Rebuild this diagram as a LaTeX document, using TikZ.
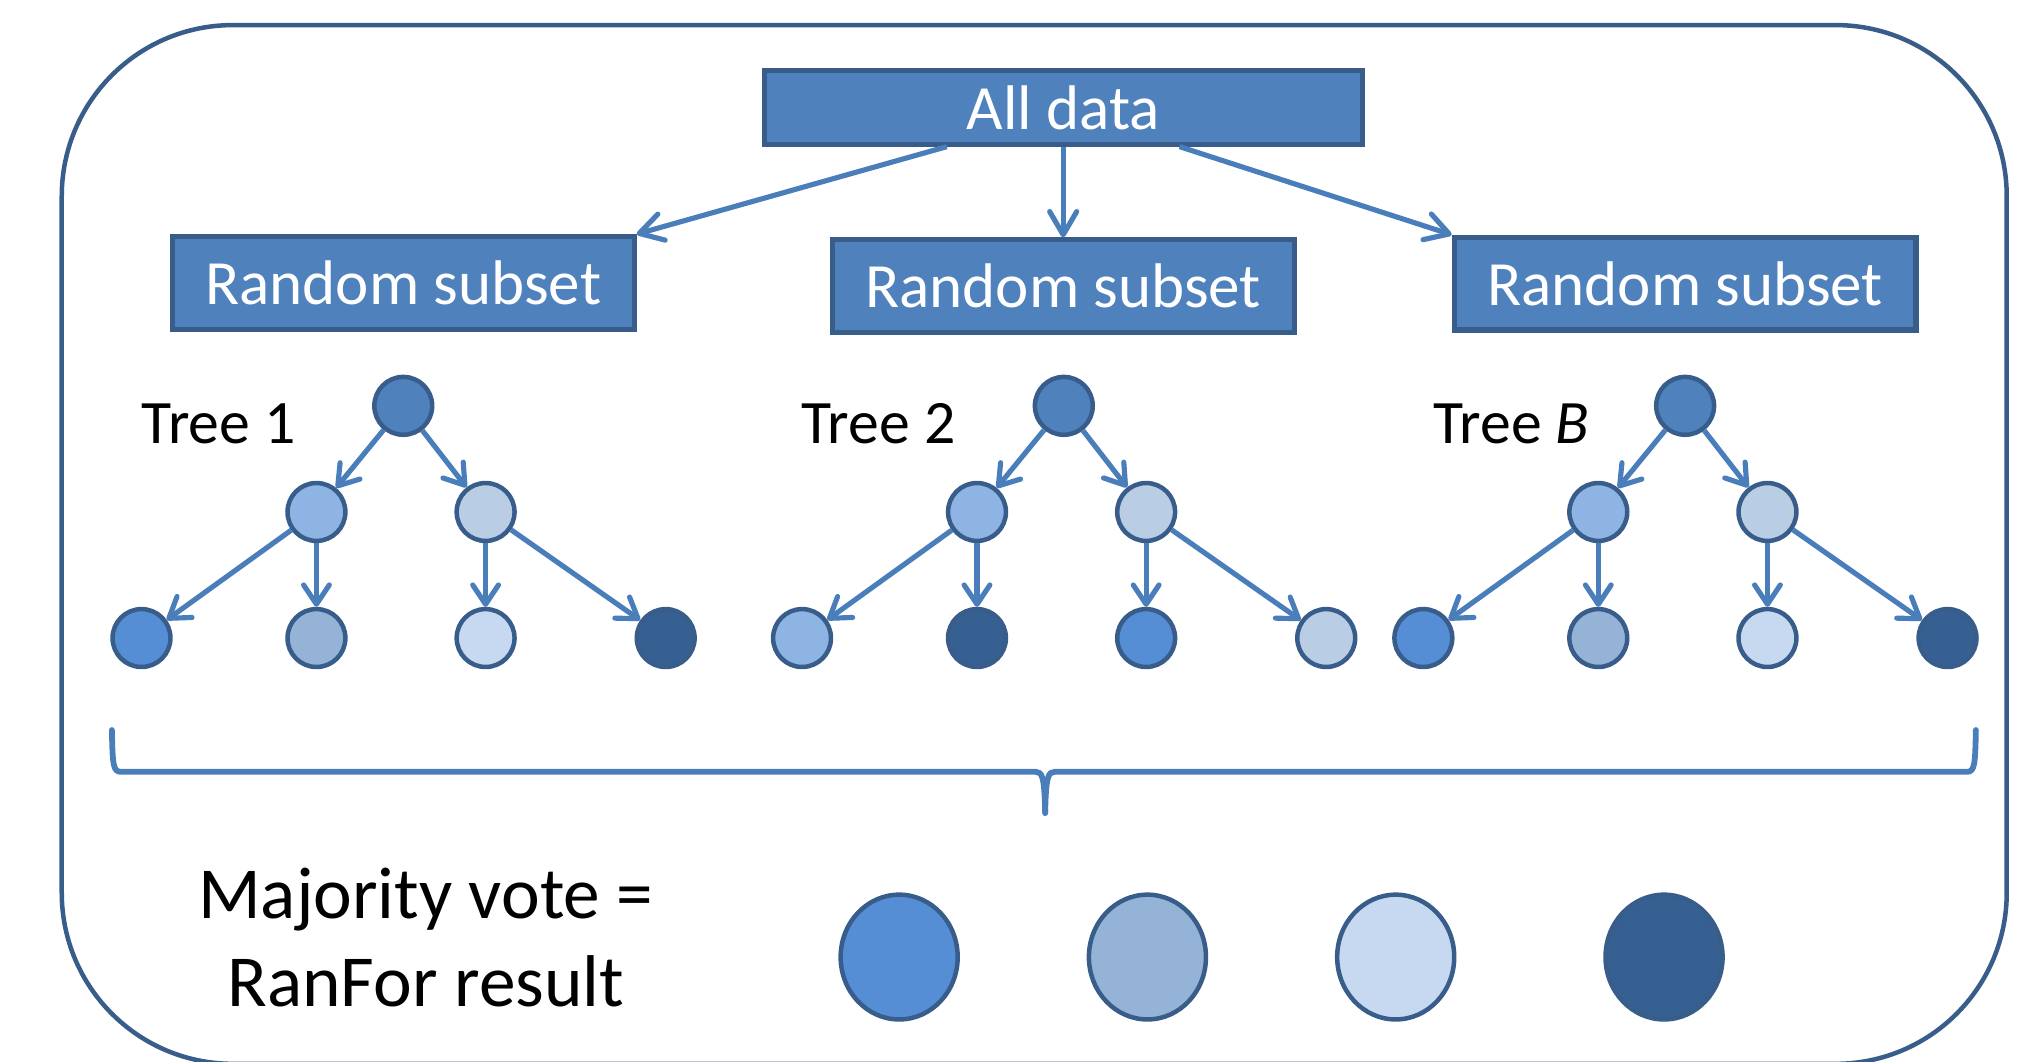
\documentclass[tikz,border=0pt]{standalone}
\usepackage{fontspec}
\setmainfont{Carlito}
\usetikzlibrary{arrows.meta,shapes.geometric,calc}
\definecolor{accent}{HTML}{4F81BD}
\definecolor{bdr}{HTML}{385D8A}
\definecolor{conn}{HTML}{4A7EBB}
\definecolor{cmidL}{HTML}{8EB4E3}
\definecolor{cmidR}{HTML}{B9CDE5}
\definecolor{cA}{HTML}{558ED5}
\definecolor{cB}{HTML}{95B3D7}
\definecolor{cC}{HTML}{C6D9F1}
\definecolor{cD}{HTML}{376092}
\tikzset{
  databox/.style={rectangle, draw=bdr, fill=accent, line width=4pt, text=white,
    font=\fontsize{49}{58}\selectfont, inner sep=0pt},
  tnode/.style={ellipse, draw=bdr, line width=3.5pt, minimum width=45pt,
    minimum height=45pt, inner sep=0pt},
  bignode/.style={ellipse, draw=bdr, line width=3.5pt, minimum width=91pt,
    minimum height=97pt, inner sep=0pt},
  arr/.style={draw=conn, line width=4pt,
    -{Straight Barb[length=15pt,width=20pt,line cap=round,line join=round]}},
  toparr/.style={draw=conn, line width=4pt,
    -{Straight Barb[length=18pt,width=21pt,line cap=round,line join=round]}},
  lbl/.style={font=\fontsize{48}{58}\selectfont, anchor=base west, inner sep=0pt},
  bracestyle/.style={draw=conn, line width=4.5pt, line cap=round, line join=round},
  frame/.style={draw=bdr, line width=3.5pt, rounded corners=133pt},
}
% #1 prefix, #2 root x, #3 label x, #4 label, #5-#8 leaf colours
\newcommand\mktree[8]{%
  \node[tnode, fill=accent] (#1r) at (#2,315.5) {};
  \node[tnode, fill=cmidL] (#1a) at ({#2-67.5},398) {};
  \node[tnode, fill=cmidR] (#1b) at ({#2+64},398) {};
  \node[tnode, fill=#5] (#1w) at ({#2-203.5},496) {};
  \node[tnode, fill=#6] (#1x) at ({#2-67.5},496) {};
  \node[tnode, fill=#7] (#1y) at ({#2+64},496) {};
  \node[tnode, fill=#8] (#1z) at ({#2+204},496) {};
  \node[lbl] (#1t) at (#3,344.7) {#4};
  \draw[arr] (#1r) -- (#1a);
  \draw[arr] (#1r) -- (#1b);
  \draw[arr] (#1a) -- (#1w);
  \draw[arr] (#1a) -- (#1x);
  \draw[arr] (#1b) -- (#1y);
  \draw[arr] (#1b) -- (#1z);
}
\begin{document}
\begin{tikzpicture}[x=1pt,y=-1pt]
\useasboundingbox (0,0) rectangle (1568,825);
\draw[frame] (48,19.5) rectangle (1560,827);

\node[databox, minimum width=465pt, minimum height=57pt] (all) at (826.5,83.5) {All data};
\node[databox, minimum width=359pt, minimum height=72pt] (rs1) at (313.5,220) {Random subset};
\node[databox, minimum width=359pt, minimum height=72pt] (rs2) at (826.5,222.5) {Random subset};
\node[databox, minimum width=359pt, minimum height=72pt] (rs3) at (1310,220.5) {Random subset};
\draw[toparr] ($(all.south)+(-90.5,0)$) -- (rs1.north east);
\draw[toparr] (all.south) -- (rs2.north);
\draw[toparr] ($(all.south)+(90.5,0)$) -- (rs3.north west);

\mktree{ta}{313.5}{110}{Tree 1}{cA}{cB}{cC}{cD}
\mktree{tb}{827}{623}{Tree 2}{cmidL}{cD}{cA}{cmidR}
\mktree{tc}{1310}{1114}{Tree \textit{B}}{cA}{cB}{cC}{cD}

\draw[bracestyle] (87,567.5) .. controls (87.5,595) and (88,600) .. (94,600)
  -- (805,600) .. controls (810,600) and (812,603) .. (812.5,632);
\draw[bracestyle] (1536,567.5) .. controls (1535.5,595) and (1535,600) .. (1529,600)
  -- (820,600) .. controls (815,600) and (813,603) .. (812.5,632);

\node[font=\fontsize{57}{68.7}\selectfont, align=center, anchor=base, inner sep=0pt]
  (vote) at (331,782.6) {Majority vote =\\RanFor result};

\node[bignode, fill=cA] (v1) at (699,744) {};
\node[bignode, fill=cB] (v2) at (892,744) {};
\node[bignode, fill=cC] (v3) at (1085,744) {};
\node[bignode, fill=cD] (v4) at (1293.6,744) {};
\end{tikzpicture}
\end{document}
